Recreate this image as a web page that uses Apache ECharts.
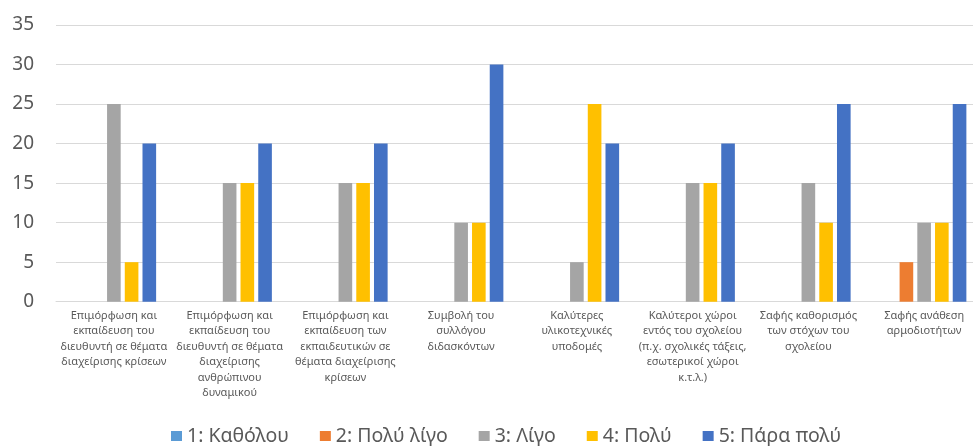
<!DOCTYPE html>
<html>
<head>
<meta charset="utf-8">
<script src="https://cdn.jsdelivr.net/npm/echarts@6/dist/echarts.min.js"></script>
<style>
  html, body { margin: 0; padding: 0; background: #ffffff; overflow: hidden; }
  /* plot runs slightly past the right edge of the page */
  #chart { width: 982px; height: 446px; }
</style>
</head>
<body>
<div id="chart"></div>
<script>
// Survey factors (axis categories, wrapped onto several lines)
const categories = [
  'Επιμόρφωση και\nεκπαίδευση του\nδιευθυντή σε θέματα\nδιαχείρισης κρίσεων',
  'Επιμόρφωση και\nεκπαίδευση του\nδιευθυντή σε θέματα\nδιαχείρισης\nανθρώπινου\nδυναμικού',
  'Επιμόρφωση και\nεκπαίδευση των\nεκπαιδευτικών σε\nθέματα διαχείρισης\nκρίσεων',
  'Συμβολή του\nσυλλόγου\nδιδασκόντων',
  'Καλύτερες\nυλικοτεχνικές\nυποδομές',
  'Καλύτεροι χώροι\nεντός του σχολείου\n(π.χ. σχολικές τάξεις,\nεσωτερικοί χώροι\nκ.τ.λ.)',
  'Σαφής καθορισμός\nτων στόχων του\nσχολείου',
  'Σαφής ανάθεση\nαρμοδιοτήτων'
];

// Answer scale (series names)
const seriesNames = ['1: Καθόλου', '2: Πολύ λίγο', '3: Λίγο', '4: Πολύ', '5: Πάρα πολύ'];

// Values per answer level
const katholou   = [0, 0, 0, 0, 0, 0, 0, 0];
const polyLigo   = [0, 0, 0, 0, 0, 0, 0, 5];
const ligo       = [25, 15, 15, 10, 5, 15, 15, 10];
const poly       = [5, 15, 15, 10, 25, 15, 10, 10];
const paraPoly   = [20, 20, 20, 30, 20, 20, 25, 25];

// Value axis ticks
const yTicks = [0, 5, 10, 15, 20, 25, 30, 35];

const colors = ['#5B9BD5', '#ED7D31', '#A5A5A5', '#FFC000', '#4472C4'];
const values = [katholou, polyLigo, ligo, poly, paraPoly];

const FONT = '"Noto Sans", "Open Sans", sans-serif';

const chart = echarts.init(document.getElementById('chart'), null, { renderer: 'canvas' });

chart.setOption({
  animation: false,
  backgroundColor: '#ffffff',
  color: colors,
  grid: { left: 56, right: 0, top: 25, bottom: 144.3, containLabel: false },
  legend: {
    data: seriesNames,
    left: 171,
    top: 426,
    padding: 0,
    itemWidth: 11,
    itemHeight: 10,
    itemGap: 31,
    icon: 'rect',
    textStyle: { fontFamily: FONT, fontSize: 19.5, color: '#595959', lineHeight: 20 }
  },
  xAxis: {
    type: 'category',
    data: categories,
    axisLine: { lineStyle: { color: '#d9d9d9', width: 1 } },
    axisTick: { show: false },
    axisLabel: {
      interval: 0,
      margin: 6,
      fontFamily: FONT,
      fontSize: 11,
      lineHeight: 15.5,
      color: '#595959',
      align: 'center'
    }
  },
  yAxis: {
    type: 'value',
    min: yTicks[0],
    max: yTicks[yTicks.length - 1],
    interval: 5,
    axisLine: { show: false },
    axisTick: { show: false },
    splitLine: { lineStyle: { color: '#d9d9d9', width: 1 } },
    axisLabel: {
      margin: 22,
      fontFamily: FONT,
      fontSize: 19,
      color: '#595959'
    }
  },
  series: seriesNames.map((name, i) => ({
    name: name,
    type: 'bar',
    data: values[i],
    barGap: '30%',
    barCategoryGap: '27%',
    itemStyle: { color: colors[i] }
  }))
});
</script>
</body>
</html>
